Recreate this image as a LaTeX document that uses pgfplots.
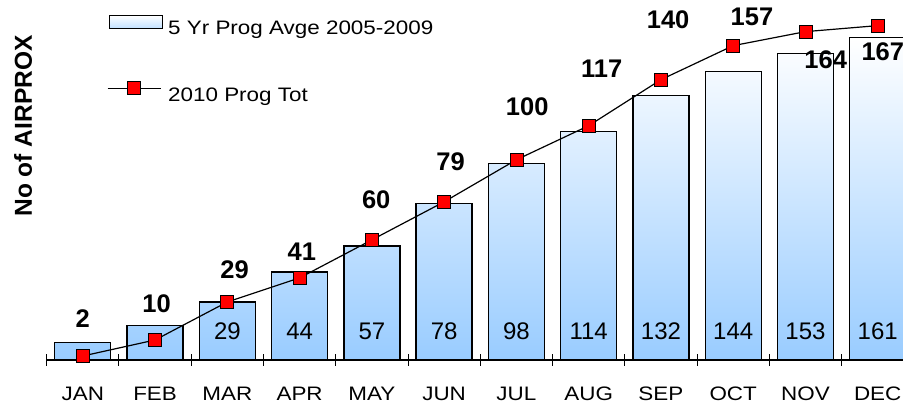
\documentclass[border=0pt]{standalone}
\usepackage{pgfplots}
\pgfplotsset{compat=1.18}
\usepackage{fontspec}
\setmainfont{Liberation Sans}
\newfontfamily\stretchfont{Liberation Sans}[FakeStretch=1.15]
\definecolor{barblue}{RGB}{153,204,255}
\pgfplotsset{
  barlegend/.style={legend image code/.code={\draw[##1, line width=1.2pt, top color=white, bottom color=barblue!60] (2pt,0.5pt) rectangle (55pt,13.5pt);}},
  linelegend/.style={legend image code/.code={\draw[mark repeat=2, mark phase=2, ##1] plot coordinates {(0pt,7pt) (26.5pt,7pt) (53pt,7pt)};}},
}
\begin{document}
\begin{tikzpicture}[x=1pt,y=1pt]
\useasboundingbox (0,0) rectangle (903,403);
\begin{axis}[
  at={(46.7pt,43pt)}, anchor=south west,
  scale only axis, width=856.3pt, height=360pt,
  xmin=-0.5, xmax=11.35, ymin=0, ymax=179.8,
  axis x line=bottom, axis y line=none,
  x axis line style={-, line width=1.4pt},
  xtick={0,...,11},
  xticklabels={JAN,FEB,MAR,APR,MAY,JUN,JUL,AUG,SEP,OCT,NOV,DEC},
  major tick length=0pt,
  xticklabel style={font=\stretchfont\fontsize{19.5}{22}\selectfont, anchor=north, inner sep=0pt, text depth=0pt, yshift=-26.5pt},
  extra x ticks={-0.5,0.5,...,10.5},
  extra x tick labels={},
  extra x tick style={major tick length=12pt, tick align=center, tick style={line width=1pt, black}},
  ytick=\empty,
  clip=false,
  legend style={draw=none, fill=none, font=\stretchfont\fontsize{19.5}{22}\selectfont,
    at={(rel axis cs:0.0704,0.9589)}, anchor=north west, row sep=45.2pt,
    inner sep=0pt, outer sep=0pt, nodes={inner sep=0pt},
    /tikz/every odd column/.append style={column sep=5pt}},
  legend cell align=left,
]
\addplot[ybar, bar width=56pt, draw=black, line width=1.3pt, top color=white, bottom color=barblue, barlegend]
  coordinates {(0,8.6) (1,17.4) (2,29) (3,44) (4,57) (5,78) (6,98) (7,114) (8,132) (9,144) (10,153) (11,161)};
\addlegendentry{5 Yr Prog Avge 2005-2009}
\addplot[black, line width=1.2pt, mark=square*, mark size=6.5pt, mark options={fill=red, draw=black, line width=0.8pt}, linelegend]
  coordinates {(0,2) (1,10) (2,29) (3,41) (4,60) (5,79) (6,100) (7,117) (8,140) (9,157) (10,164) (11,167)};
\addlegendentry{2010 Prog Tot}
% bold labels of the 2010 series
\addplot[draw=none, mark=none, forget plot, nodes near coords, point meta=explicit symbolic,
  nodes near coords style={font=\bfseries\fontsize{25.5}{27}\selectfont, anchor=center, inner sep=0pt}]
  coordinates {(0,20.5)[2] (1.02,28)[10] (2.1,45.3)[29] (3.03,54.1)[41] (4.06,79.9)[60] (5.09,99.1)[79]
   (6.15,126.5)[100] (7.18,145.4)[117] (8.1,169.8)[140] (9.26,171.5)[157] (10.28,150.2)[164] (11.07,154)[167]};
% labels inside the bars
\addplot[draw=none, mark=none, forget plot, nodes near coords, point meta=explicit symbolic,
  nodes near coords style={font=\fontsize{24}{26}\selectfont, anchor=center, inner sep=0pt}]
  coordinates {(2,14.5)[29] (3,14.5)[44] (4,14.5)[57] (5,14.5)[78] (6,14.5)[98] (7,14.5)[114]
   (8,14.5)[132] (9,14.5)[144] (10,14.5)[153] (11,14.5)[161]};
\end{axis}
\node[rotate=90, font=\bfseries\fontsize{24.5}{26}\selectfont] at (23,277) {No of AIRPROX};
\end{tikzpicture}
\end{document}
